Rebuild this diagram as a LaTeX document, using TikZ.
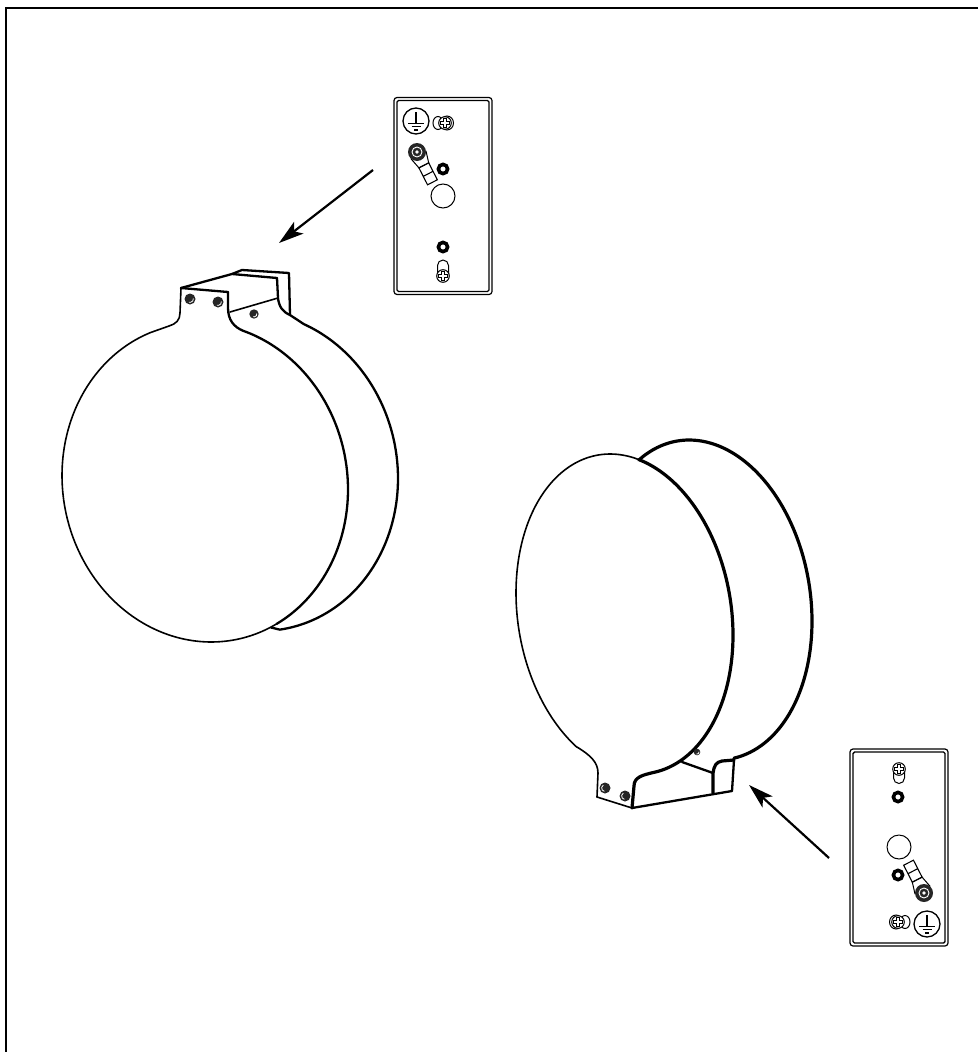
\documentclass[tikz,border=0pt]{standalone}
\usetikzlibrary{arrows.meta}
\tikzset{
  thin line/.style={line width=1.6pt,line join=round,line cap=round},
  disc line/.style={line width=2.3pt,line join=round,line cap=round},
  back line/.style={line width=3.2pt,line join=round,line cap=round},
  pointer/.style={line width=2.2pt,-{Stealth[length=25pt,width=15pt,inset=6pt]}},
  plate/.pic={
    \draw[line width=1.2pt,rounded corners=3pt] (-49,-98.5) rectangle (49,98.5);
    \draw[line width=1.4pt,rounded corners=1.5pt] (-46,-95.5) rectangle (46,95.5);
  },
  grommet/.pic={\draw[line width=3.6pt] (0,0) circle (4.6);},
  hole/.pic={\draw[line width=1pt] (0,0) circle (12);},
  crosshead/.pic={
    \draw[line width=1pt,fill=white] (0,0) circle (6.3);
    \draw[line width=3.4pt] (-4.6,0) -- (4.6,0) (0,-4.6) -- (0,4.6);
    \draw[white,line width=1.7pt] (-4,0) -- (4,0) (0,-4) -- (0,4);
  },
  earth/.pic={
    \draw[line width=1.3pt] (0,0) circle (13);
    \draw[line width=1.2pt] (0,-9) -- (0,2.5) (-8,2.5) -- (8,2.5) (-4.5,5.8) -- (4.5,5.8) (-2,9) -- (2,9);
  },
  lug nut/.pic={
    \draw[line width=1pt,fill=white] (-8.5,3) -- (-5.5,15) -- (5.5,15) -- (8.5,3);
    \draw[line width=1.1pt] (-5.5,15) rectangle (5.5,34) (-5.5,24.5) -- (5.5,24.5);
  },
  lug head/.pic={
    \fill[black!85] (0,0) circle (9);
    \draw[white,line width=.9pt] (0,0) circle (5);
    \fill[white] (0,0) circle (1.8);
  },
  tab screw/.pic={
    \fill[black!85] (0,0) circle (5.5);
    \draw[white,line width=.8pt] (-10:3.4) arc[start angle=-10,end angle=110,radius=3.4];
  },
  tab screw low/.pic={
    \fill[black!85] (0,0) circle (5.5);
    \draw[white,line width=.8pt] (100:3.4) arc[start angle=100,end angle=240,radius=3.4];
  }
}
\begin{document}
\begin{tikzpicture}[x=1pt,y=-1pt]
  \useasboundingbox (0,0) rectangle (978,1052);
  \draw[line width=1.9pt] (978,8) -- (6,8) -- (6,1052);

  % upper cover
  \draw[disc line] (290,315) -- plot[smooth,domain=-70:80,samples=60] ({255+143*cos(\x)},{471.5+159.5*sin(\x+2.5)}) -- (271,627.5);
  \draw[thin line] (181,288) -- (180,313) .. controls (180,320) and (176,324) .. (169,326) -- plot[smooth,domain=247.4:60,samples=60] ({205+143*cos(\x)},{482.5+159.5*sin(\x+2.5)});
  \draw[disc line] plot[smooth,domain=60:-74.6,samples=50] ({205+143*cos(\x)},{482.5+159.5*sin(\x+2.5)}) .. controls (234,327) and (228,320) .. (228,308) -- (228,292);
  \draw[disc line] (181,288) -- (228,292);
  \draw[disc line] (181,288) -- (232,274) -- (277,278);
  \draw[disc line] (277,278) -- (278,298) .. controls (279,307) and (283,312) .. (290,315);
  \draw[disc line] (232,274) -- (242,270) -- (289,273) -- (290,315);
  \draw[thin line] (230,312) -- (278,298);
  \pic at (190,299) {tab screw};
  \pic at (218,302) {tab screw};
  \pic[scale=.85] at (254,314) {tab screw};

  % lower cover
  \draw[back line] plot[smooth,domain=233.4:433.7,samples=90] ({703.5+108.5*cos(\x)},{600+160*sin(\x+7.6)});
  \draw[thin line] (597,797) -- (598,773) .. controls (598,762) and (590,755) .. (577,747) -- plot[smooth,domain=116:278,samples=60] ({624.5+108.5*cos(\x)},{614+160*sin(\x+7.6)});
  \draw[back line] plot[smooth,domain=278:434.8,samples=70] ({624.5+108.5*cos(\x)},{614+160*sin(\x+7.6)}) .. controls (643,775) and (634,777) .. (634,786) -- (632,808);
  \draw[thin line] (597,797) -- (632,808);
  \draw[disc line] (632,808) -- (732,791) -- (734,760);
  \draw[back line] (713,793) -- (713,773) .. controls (714,766) and (716,762) .. (722,761) -- (734,760);
  \draw[disc line] (682,762) -- (713,773);
  \begin{scope}
    \clip (690,742) rectangle (705,760);
    \pic[scale=.6] at (697,752) {tab screw};
  \end{scope}
  \pic at (605,788) {tab screw low};
  \pic at (625,796) {tab screw low};

  % upper plate
  \pic at (443,196) {plate};
  \pic at (416,121) {earth};
  \draw[line width=1pt] (438,123) ellipse (5 and 6.5) (447,123) ellipse (6.5 and 7);
  \pic at (445,123) {crosshead};
  \pic[rotate=27] at (417,152) {lug nut};
  \pic at (417,152) {lug head};
  \pic at (443,169) {grommet};
  \pic at (443,196) {hole};
  \pic at (443,247) {grommet};
  \draw[line width=1pt] (437.5,276) -- (437.5,265.5) arc[start angle=180,end angle=360,radius=5.5] -- (448.5,276);
  \pic at (443,276) {crosshead};

  % lower plate
  \pic at (899,847.5) {plate};
  \pic at (927,924) {earth};
  \draw[line width=1pt] (905,922) ellipse (5 and 6.5) (896,922) ellipse (6.5 and 7);
  \pic at (898,922) {crosshead};
  \pic[rotate=207] at (924,893) {lug nut};
  \pic at (924,893) {lug head};
  \pic at (898,875) {grommet};
  \pic at (899,847) {hole};
  \pic at (898,797) {grommet};
  \draw[line width=1pt] (893.5,769) -- (893.5,778) arc[start angle=180,end angle=0,radius=5.5] -- (904.5,769);
  \pic at (899,769) {crosshead};

  % arrows
  \coordinate (from1) at (373,170);
  \coordinate (tip1) at (279,243);
  \coordinate (from2) at (829,858);
  \coordinate (tip2) at (749,785);
  \draw[pointer] (from1) -- (tip1);
  \draw[pointer] (from2) -- (tip2);
\end{tikzpicture}
\end{document}
